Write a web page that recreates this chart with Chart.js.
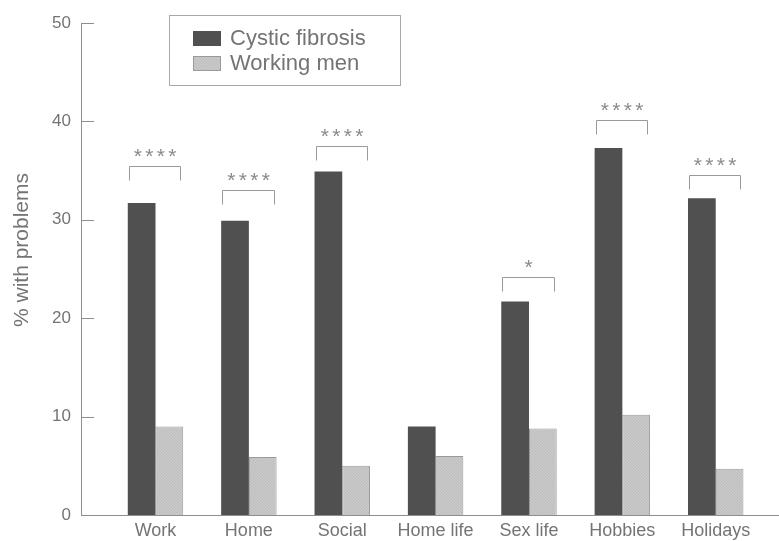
<!DOCTYPE html>
<html>
<head>
<meta charset="utf-8">
<script src="https://cdn.jsdelivr.net/npm/chart.js@4.4.1/dist/chart.umd.min.js"></script>
<style>
  html, body { margin: 0; padding: 0; background: #ffffff; }
  #wrap { width: 779px; height: 541px; }
</style>
</head>
<body>
<div id="wrap"><canvas id="c" width="779" height="541"></canvas></div>
<script>
// ---- data ----
const categories = ["Work", "Home", "Social", "Home life", "Sex life", "Hobbies", "Holidays"];
const cysticFibrosis = [31.7, 29.9, 34.9, 9.0, 21.7, 37.3, 32.2];
const workingMen = [9.0, 5.9, 5.0, 6.0, 8.8, 10.2, 4.7];
const seriesNames = ["Cystic fibrosis", "Working men"];
const significanceStars = [4, 4, 4, 0, 1, 4, 4];
const bracketLevels = [35.5, 33.0, 37.5, null, 24.2, 40.1, 34.6];
const yTicks = [0, 10, 20, 30, 40, 50];

// ---- styles ----
const FONT = "'Liberation Sans', Arial, Helvetica, sans-serif";
const TEXT = "#747474";
const AXIS = "#8e8e8e";
const DARK = "#505050";
const LIGHT_BORDER = "#9a9a9a";

function makePattern() {
  const p = document.createElement('canvas');
  p.width = 3; p.height = 3;
  const g = p.getContext('2d');
  g.fillStyle = '#c9c9c9'; g.fillRect(0, 0, 3, 3);
  g.fillStyle = '#bcbcbc';
  g.fillRect(0, 0, 1, 1); g.fillRect(1, 1, 1, 1); g.fillRect(2, 2, 1, 1);
  return g.createPattern(p, 'repeat');
}
const lightFill = makePattern();

const annotations = {
  id: 'annotations',
  afterDraw(chart) {
    const ctx = chart.ctx;
    const area = chart.chartArea;
    const y = chart.scales.y;
    const m0 = chart.getDatasetMeta(0);
    const m1 = chart.getDatasetMeta(1);
    ctx.save();

    // inward y ticks
    ctx.strokeStyle = AXIS; ctx.lineWidth = 1;
    yTicks.forEach(v => {
      const py = Math.round(y.getPixelForValue(v)) + 0.5;
      ctx.beginPath(); ctx.moveTo(area.left, py); ctx.lineTo(area.left + 13, py); ctx.stroke();
    });

    // significance brackets
    ctx.strokeStyle = '#9a9a9a';
    ctx.fillStyle = '#8a8a8a';
    ctx.font = "21px " + FONT;
    ctx.textAlign = 'center';
    ctx.textBaseline = 'alphabetic';
    categories.forEach((c, i) => {
      if (bracketLevels[i] == null) return;
      const b0 = m0.data[i], b1 = m1.data[i];
      const left = Math.round(b0.x - b0.width / 2 + 1) + 0.5;
      const right = Math.round(b1.x + b1.width / 2 - 3) + 0.5;
      const top = Math.round(y.getPixelForValue(bracketLevels[i])) + 0.5;
      const legBottom = top + 14;
      ctx.beginPath();
      ctx.moveTo(left, legBottom); ctx.lineTo(left, top); ctx.lineTo(right, top); ctx.lineTo(right, legBottom);
      ctx.stroke();
      const n = significanceStars[i];
      const pitch = 11.5;
      const cx = (left + right) / 2;
      for (let k = 0; k < n; k++) {
        const sx = cx + (k - (n - 1) / 2) * pitch;
        ctx.fillText("*", sx, top - 4);
      }
    });

    // y axis title
    ctx.save();
    ctx.translate(22, 250);
    ctx.rotate(-Math.PI / 2);
    ctx.font = "21px " + FONT;
    ctx.fillStyle = TEXT;
    ctx.textAlign = 'center';
    ctx.textBaseline = 'middle';
    ctx.fillText("% with problems", 0, 0);
    ctx.restore();

    // legend
    const lx = 169.5, ly = 15.5, lw = 231, lh = 70;
    ctx.fillStyle = '#ffffff';
    ctx.fillRect(lx, ly, lw, lh);
    ctx.strokeStyle = '#a8a8a8';
    ctx.strokeRect(lx, ly, lw, lh);
    const sw = [[DARK, DARK], [lightFill, LIGHT_BORDER]];
    ctx.font = "22px " + FONT;
    ctx.textAlign = 'left';
    ctx.textBaseline = 'middle';
    seriesNames.forEach((name, k) => {
      const sy = 31 + k * 25;
      ctx.fillStyle = sw[k][0];
      ctx.fillRect(193, sy, 28, 15);
      ctx.strokeStyle = sw[k][1];
      ctx.strokeRect(193.5, sy + 0.5, 27, 14);
      ctx.fillStyle = TEXT;
      ctx.fillText(name, 230, sy + 8);
    });
    ctx.restore();
  }
};

new Chart(document.getElementById('c'), {
  type: 'bar',
  data: {
    datasets: [
      {
        label: seriesNames[0],
        data: categories.map((c, i) => ({ x: i, y: cysticFibrosis[i] })),
        backgroundColor: DARK,
        borderColor: DARK,
        borderWidth: 0
      },
      {
        label: seriesNames[1],
        data: categories.map((c, i) => ({ x: i, y: workingMen[i] })),
        backgroundColor: lightFill,
        borderColor: LIGHT_BORDER,
        borderWidth: 1
      }
    ]
  },
  plugins: [annotations],
  options: {
    responsive: false,
    animation: false,
    devicePixelRatio: 1,
    categoryPercentage: 0.594,
    barPercentage: 1.0,
    layout: { padding: { top: 23, right: 1, left: 0, bottom: 0 } },
    plugins: { legend: { display: false }, tooltip: { enabled: false }, title: { display: false } },
    scales: {
      x: {
        type: 'linear',
        offset: false,
        min: -0.798,
        max: 6.667,
        grid: { display: false, drawTicks: false, offset: false },
        border: { display: true, color: AXIS, width: 1 },
        afterBuildTicks: (s) => { s.ticks = categories.map((c, i) => ({ value: i })); },
        afterFit: (s) => { s.height = 26; },
        ticks: {
          autoSkip: false,
          maxRotation: 0,
          padding: 5,
          color: TEXT,
          font: { family: FONT, size: 18 },
          callback: (v) => categories[Math.round(v)] ?? ''
        }
      },
      y: {
        min: 0,
        max: 50,
        grid: { display: false, drawTicks: false },
        border: { display: true, color: AXIS, width: 1 },
        afterBuildTicks: (s) => { s.ticks = yTicks.map(v => ({ value: v })); },
        afterFit: (s) => { s.width = 81; },
        ticks: {
          padding: 10,
          color: TEXT,
          font: { family: FONT, size: 17 }
        }
      }
    }
  }
});
</script>
</body>
</html>
